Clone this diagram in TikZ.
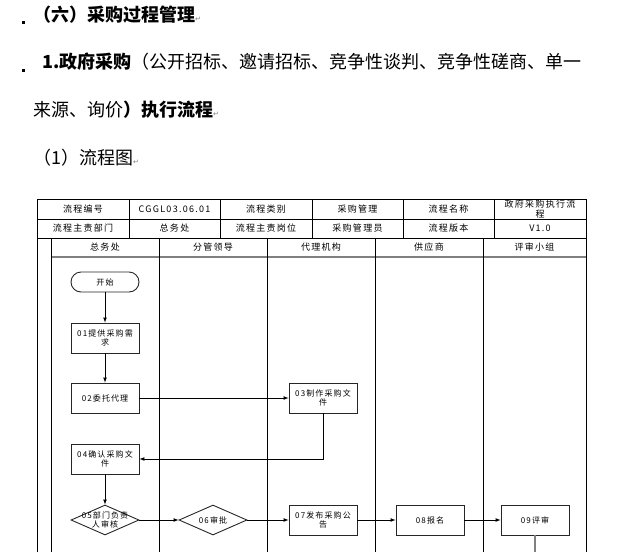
\documentclass[tikz,border=0pt]{standalone}
\usepackage{fontspec}
\setmainfont{Noto Sans CJK SC}
\newfontfamily\tabfont[LetterSpace=14]{Noto Sans CJK SC}
\newfontfamily\symfont{DejaVu Sans}
\usetikzlibrary{arrows,shapes.geometric,positioning}

\newcommand{\retmark}{{\symfont\fontsize{7}{7}\selectfont\color{gray}↵}}

\begin{document}
\begin{tikzpicture}[x=1pt,y=-1pt,>=latex,
	title/.style={anchor=west,inner sep=0pt,font=\fontsize{18}{20}\selectfont},
	cell/.style={inner sep=0pt,align=center,font=\tabfont\fontsize{9}{10}\selectfont},
	box/.style={draw=black!85,line width=0.9pt,minimum width=68pt,minimum height=30pt,inner sep=0pt,align=center,font=\tabfont\fontsize{8}{9}\selectfont},
	term/.style={box,minimum height=20pt,rounded corners=10pt},
	dia/.style={diamond,draw=black!85,line width=0.9pt,aspect=2.27,minimum width=68pt,minimum height=30pt,inner sep=0pt,font=\tabfont\fontsize{8}{9}\selectfont},
	txt/.style={inner sep=0pt,align=center,font=\tabfont\fontsize{8}{9}\selectfont},
	arr/.style={->,line width=0.7pt},
	grid/.style={line width=1pt},
	rule/.style={gray,line width=1.8pt}]
	
	\useasboundingbox (0,0) rectangle (623,552);
	
	% headings
	\fill (21.5,20.5) rectangle (25,24);
	\fill (21.5,68.5) rectangle (25,72);
	\node[title] (h1) at (33,15) {\textbf{（六）采购过程管理}\retmark};
	\node[title] (h2) at (42,62) {\textbf{1.政府采购}（公开招标、邀请招标、竞争性谈判、竞争性磋商、单一};
	\node[title] (h3) at (33,110) {来源、询价\textbf{）执行流程}\retmark};
	\node[title] (h4) at (33,158) {（1）流程图\retmark};
	
	% table frame
	\draw[grid] (37,552) -- (37,199) -- (586,199) -- (586,552);
	\draw[grid] (37,219) -- (586,219);
	\draw[grid] (37,238) -- (586,238);
	\draw[rule] (51,257) -- (586,257);
	\foreach \x in {129,220,312,403,494}
		\draw[grid] (\x,199) -- (\x,238);
	\foreach \x in {51,159,267,375,483}
		\draw[grid] (\x,238) -- (\x,552);
	
	% table cells
	\node[cell] (c11) at (83,209) {流程编号};
	\node[cell] (c12) at (174.5,209) {CGGL03.06.01};
	\node[cell] (c13) at (266,209) {流程类别};
	\node[cell] (c14) at (357.5,209) {采购管理};
	\node[cell] (c15) at (448.5,209) {流程名称};
	\node[cell] (c16) at (540,209) {政府采购执行流\\程};
	\node[cell] (c21) at (83,228.5) {流程主责部门};
	\node[cell] (c22) at (174.5,228.5) {总务处};
	\node[cell] (c23) at (266,228.5) {流程主责岗位};
	\node[cell] (c24) at (357.5,228.5) {采购管理员};
	\node[cell] (c25) at (448.5,228.5) {流程版本};
	\node[cell] (c26) at (540,228.5) {V1.0};
	
	% lanes
	\node[cell] (l1) at (105,247.5) {总务处};
	\node[cell] (l2) at (213,247.5) {分管领导};
	\node[cell] (l3) at (321,247.5) {代理机构};
	\node[cell] (l4) at (429,247.5) {供应商};
	\node[cell] (l5) at (534.5,247.5) {评审小组};
	
	% flow
	\node[term] (start) at (105,282) {开始};
	\node[box] (n01) at (105,338) {01提供采购需\\求};
	\node[box] (n02) at (105,398) {02委托代理};
	\node[box] (n03) at (323,398) {03制作采购文\\件};
	\node[box] (n04) at (105,459) {04确认采购文\\件};
	\node[dia] (n05) at (105,520) {};
	\node[txt] at (n05) {05部门负责\\人审核};
	\node[dia] (n06) at (213,520) {06审批};
	\node[box] (n07) at (323,520) {07发布采购公\\告};
	\node[box] (n08) at (430,520) {08报名};
	\node[box] (n09) at (535,520) {09评审};
	\coordinate (end09) at (535,552);
	
	\draw[arr] (start) -- (n01);
	\draw[arr] (n01) -- (n02);
	\draw[arr] (n02) -- (n03);
	\draw[arr] (n03.south) |- (n04.east);
	\draw[arr] (n04) -- (n05);
	\draw[arr] (n05) -- (n06);
	\draw[arr] (n06) -- (n07);
	\draw[arr] (n07) -- (n08);
	\draw[arr] (n08) -- (n09);
	\draw[gray,line width=1.8pt] (n09) -- (end09);
\end{tikzpicture}
\end{document}
